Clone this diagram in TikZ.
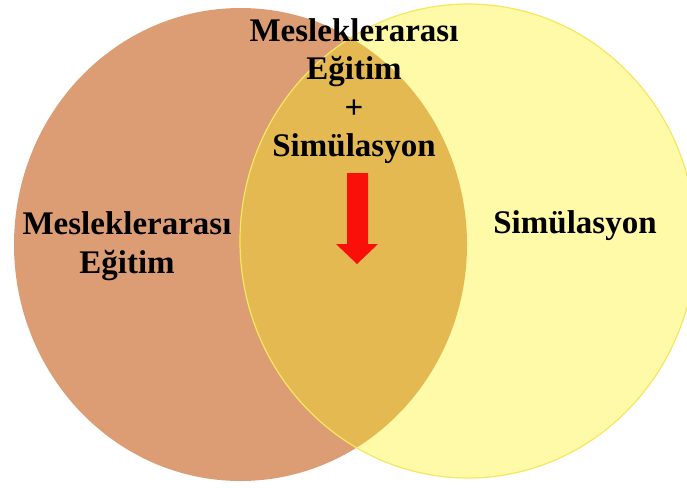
\documentclass[tikz,border=0pt]{standalone}
\usepackage{fontspec}
\setmainfont{Liberation Serif}

\definecolor{brownfill}{RGB}{221,157,116}
\definecolor{yellowfill}{RGB}{255,250,168}
\definecolor{yellowedge}{RGB}{246,230,96}
\definecolor{lensfill}{RGB}{228,185,82}
\definecolor{arrowred}{RGB}{250,16,8}

\begin{document}
\begin{tikzpicture}
	[x=1pt, y=-1pt,
	label/.style={font=\fontsize{33}{38.5}\selectfont\bfseries, align=center, inner sep=0pt}]

	\useasboundingbox (0,0) rectangle (687,487);
	\clip (0,0) rectangle (687,487);

	% Centres of the two sets
	\coordinate (C1) at (240.5, 244.5);
	\coordinate (C2) at (468, 241);

	% Draw sets
	\fill[brownfill] (C1) ellipse [x radius=226.5, y radius=236.5];
	\fill[yellowfill] (C2) ellipse [x radius=228, y radius=237];

	% Overlap
	\begin{scope}
		\path[clip] (C1) ellipse [x radius=226.5, y radius=236.5];
		\fill[lensfill] (C2) ellipse [x radius=228, y radius=237];
	\end{scope}
	\draw[yellowedge, line width=1.2pt] (C2) ellipse [x radius=228, y radius=237];

	% Labels
	\node[label] (both) at (354, 91) {Mesleklerarası\\Eğitim\\+\\Simülasyon};
	\node[label] (edu) at (127, 246) {Mesleklerarası\\Eğitim};
	\node[label, anchor=base] (sim) at (575, 233) {Simülasyon};

	% Draw direction
	\fill[arrowred] (347,173) -- (368,173) -- (368,244) -- (378,244)
		-- (357,264) -- (336,244) -- (347,244) -- cycle;

\end{tikzpicture}
\end{document}
